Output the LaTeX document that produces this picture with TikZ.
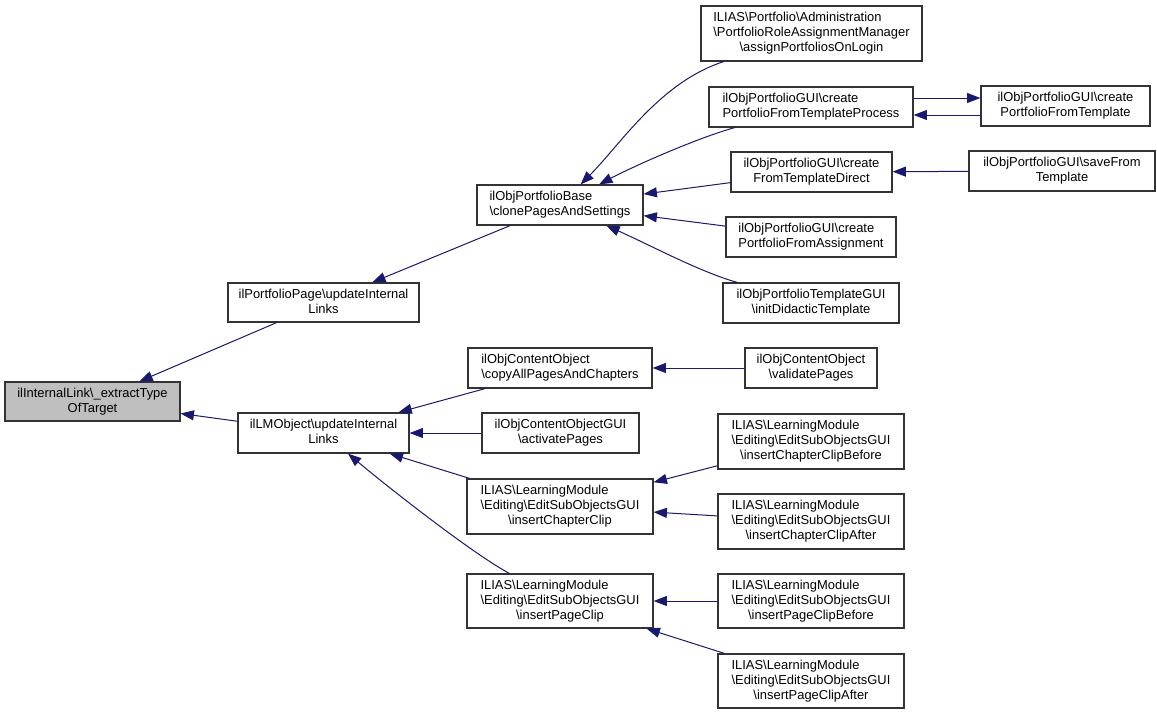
\documentclass[tikz,border=0pt]{standalone}
\usepackage{fontspec}
\setmainfont{Liberation Sans}
\usetikzlibrary{arrows.meta}
\definecolor{edgec}{HTML}{191970}
\definecolor{rootc}{HTML}{BFBFBF}
\definecolor{bordc}{HTML}{333333}
\newcommand{\bksl}{\textbackslash}
\newcommand{\lblB}[2]{\begin{tabular}{@{}l@{}}#1\\\multicolumn{1}{@{}c@{}}{#2}\end{tabular}}
\newcommand{\lblC}[3]{\begin{tabular}{@{}l@{}}#1\\#2\\\multicolumn{1}{@{}c@{}}{#3}\end{tabular}}
\begin{document}
\begin{tikzpicture}[x=0.75pt,y=-0.75pt,
  box/.style={draw=bordc, line width=0.9pt, fill=white, inner sep=0pt, font=\fontsize{9.7}{11.25}\selectfont},
  rootbox/.style={box, fill=rootc},
  bxat/.style n args={4}{minimum width={(#3-#1)*0.75pt}, minimum height={(#4-#2)*0.75pt}, at={({(#1+#3)/2},{(#2+#4)/2})}},
  edge/.style={draw=edgec, line width=0.75pt, -{Triangle[length=10pt,width=7.5pt]}}]
\useasboundingbox (0,0) rectangle (1157,715);
\fill[white] (0,0) rectangle (1157,715);
% nodes
\node[rootbox, bxat={5}{382}{180}{421}] (root) {\lblB{ilInternalLink\bksl\_extractType}{OfTarget}};
\node[box, bxat={228}{283}{419}{322}] (pp) {\lblB{ilPortfolioPage\bksl updateInternal}{Links}};
\node[box, bxat={238}{413}{409}{453}] (lm) {\lblB{ilLMObject\bksl updateInternal}{Links}};
\node[box, bxat={477}{185}{643}{225}] (cp) {\lblB{ilObjPortfolioBase}{\bksl clonePagesAndSettings}};
\node[box, bxat={701}{6}{922}{61}] (as) {\lblC{ILIAS\bksl Portfolio\bksl Administration}{\bksl PortfolioRoleAssignmentManager}{\bksl assignPortfoliosOnLogin}};
\node[box, bxat={709}{87}{913}{127}] (pr) {\lblB{ilObjPortfolioGUI\bksl create}{PortfolioFromTemplateProcess}};
\node[box, bxat={731}{152}{892}{192}] (dr) {\lblB{ilObjPortfolioGUI\bksl create}{FromTemplateDirect}};
\node[box, bxat={726}{217}{896}{257}] (fa) {\lblB{ilObjPortfolioGUI\bksl create}{PortfolioFromAssignment}};
\node[box, bxat={723}{283}{899}{323}] (dt) {\lblB{ilObjPortfolioTemplateGUI}{\bksl initDidacticTemplate}};
\node[box, bxat={981}{86}{1150}{126}] (ft) {\lblB{ilObjPortfolioGUI\bksl create}{PortfolioFromTemplate}};
\node[box, bxat={969}{151}{1155}{191}] (sf) {\lblB{ilObjPortfolioGUI\bksl saveFrom}{Template}};
\node[box, bxat={468}{348}{652}{388}] (ca) {\lblB{ilObjContentObject}{\bksl copyAllPagesAndChapters}};
\node[box, bxat={745}{348}{877}{388}] (vp) {\lblB{ilObjContentObject}{\bksl validatePages}};
\node[box, bxat={482}{413}{639}{453}] (ap) {\lblB{ilObjContentObjectGUI}{\bksl activatePages}};
\node[box, bxat={467}{479}{653}{534}] (cc) {\lblC{ILIAS\bksl LearningModule}{\bksl Editing\bksl EditSubObjectsGUI}{\bksl insertChapterClip}};
\node[box, bxat={467}{574}{653}{628}] (pc) {\lblC{ILIAS\bksl LearningModule}{\bksl Editing\bksl EditSubObjectsGUI}{\bksl insertPageClip}};
\node[box, bxat={718}{414}{904}{469}] (cb) {\lblC{ILIAS\bksl LearningModule}{\bksl Editing\bksl EditSubObjectsGUI}{\bksl insertChapterClipBefore}};
\node[box, bxat={718}{494}{904}{549}] (cf) {\lblC{ILIAS\bksl LearningModule}{\bksl Editing\bksl EditSubObjectsGUI}{\bksl insertChapterClipAfter}};
\node[box, bxat={718}{574}{904}{628}] (pb) {\lblC{ILIAS\bksl LearningModule}{\bksl Editing\bksl EditSubObjectsGUI}{\bksl insertPageClipBefore}};
\node[box, bxat={718}{654}{904}{708}] (pa) {\lblC{ILIAS\bksl LearningModule}{\bksl Editing\bksl EditSubObjectsGUI}{\bksl insertPageClipAfter}};
% edges
\draw[edge] (pp) -- (root);
\draw[edge] (lm) -- (root);
\draw[edge] (cp) -- (pp);
\draw[edge] (as) .. controls (660,82) and (620,145) .. (cp);
\draw[edge] (pr) .. controls (700,137) and (636,165) .. (cp);
\draw[edge] (dr) -- (cp);
\draw[edge] (fa) -- (cp);
\draw[edge] (dt) .. controls (700,272) and (650,245) .. (cp);
\draw[edge] ([yshift=6.75pt]pr.east) -- ([yshift=6pt]ft.west);
\draw[edge] ([yshift=-6.75pt]ft.west) -- ([yshift=-6pt]pr.east);
\draw[edge] (sf) -- (dr);
\draw[edge] (ca) -- (lm);
\draw[edge] (ap) -- (lm);
\draw[edge] (cc) -- (lm);
\draw[edge] (pc) .. controls (470,552) and (383,483) .. (lm);
\draw[edge] (vp) -- (ca);
\draw[edge] (cb) -- (cc);
\draw[edge] (cf) -- (cc);
\draw[edge] (pb) -- (pc);
\draw[edge] (pa) -- (pc);
\end{tikzpicture}
\end{document}
